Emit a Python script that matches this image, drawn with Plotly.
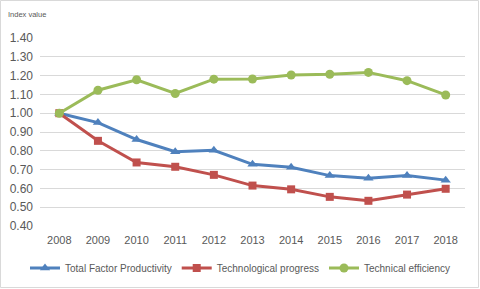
import plotly.graph_objects as go

years = ["2008", "2009", "2010", "2011", "2012", "2013", "2014", "2015", "2016", "2017", "2018"]
tfp = [1.00, 0.95, 0.86, 0.795, 0.803, 0.728, 0.712, 0.668, 0.654, 0.668, 0.644]
tech_progress = [1.00, 0.853, 0.738, 0.715, 0.672, 0.615, 0.595, 0.555, 0.534, 0.567, 0.598]
tech_efficiency = [1.00, 1.122, 1.178, 1.105, 1.181, 1.182, 1.203, 1.207, 1.217, 1.173, 1.097]

fig = go.Figure()
fig.add_trace(go.Scatter(x=years, y=tfp, name="Total Factor Productivity", mode="lines+markers",
                         line=dict(color="#4F81BD", width=3),
                         marker=dict(symbol="triangle-up", size=9, color="#4F81BD")))
fig.add_trace(go.Scatter(x=years, y=tech_progress, name="Technological progress", mode="lines+markers",
                         line=dict(color="#C0504D", width=3),
                         marker=dict(symbol="square", size=8, color="#C0504D")))
fig.add_trace(go.Scatter(x=years, y=tech_efficiency, name="Technical efficiency", mode="lines+markers",
                         line=dict(color="#9BBB59", width=3),
                         marker=dict(symbol="circle", size=9, color="#9BBB59")))

L, R, T, B = 40, 15, 38, 63
W, H = 480, 289
pw, ph = W - L - R, H - T - B

fig.update_layout(
    width=W, height=H,
    margin=dict(l=L, r=R, t=T, b=B, autoexpand=False),
    paper_bgcolor="white", plot_bgcolor="white",
    font=dict(family="Liberation Sans, Arial, sans-serif", color="#595959", size=11),
    xaxis=dict(type="category", range=[-0.5, len(years) - 0.5], showgrid=False, showline=False,
               ticks="", ticklabelstandoff=6, tickfont=dict(size=11, color="#595959")),
    yaxis=dict(range=[0.4, 1.4], dtick=0.1, tickformat=".2f", showgrid=True,
               gridcolor="#D9D9D9", gridwidth=1, zeroline=False, showline=False,
               ticklabelstandoff=6, tickfont=dict(size=12, color="#595959"), ticks=""),
    legend=dict(orientation="h", x=0.5, xanchor="center", y=-(268 - 226) / ph, yanchor="middle",
                xref="container", font=dict(size=10, color="#595959"), itemwidth=30,
                tracegroupgap=0, bgcolor="rgba(0,0,0,0)"),
    showlegend=True,
    annotations=[dict(text="Index value", xref="paper", yref="paper",
                      x=-(L - 6) / pw, y=1 + (T - 14) / ph, xanchor="left", yanchor="middle",
                      showarrow=False, font=dict(size=7.5, color="#595959"))],
    shapes=[dict(type="rect", xref="paper", yref="paper",
                 x0=-(L - 0.5) / pw, x1=1 + (R - 1.5) / pw,
                 y0=-(B - 1.5) / ph, y1=1 + (T - 0.5) / ph,
                 line=dict(color="#D9D9D9", width=1))],
)

fig.write_html("out.html", config={"displayModeBar": False},
               post_script="document.body.style.margin='0';document.body.style.overflow='hidden';")
